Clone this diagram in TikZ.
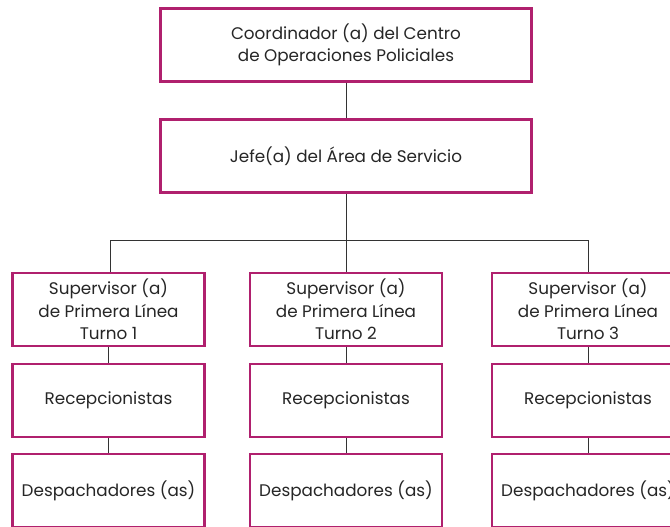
\documentclass[tikz,border=0pt]{standalone}
\usepackage{fontspec}
\setmainfont{Poppins}
\definecolor{boxc}{HTML}{B0206E}
\definecolor{linec}{HTML}{333333}
\begin{document}
\begin{tikzpicture}[x=1pt,y=-1pt,
  box/.style={draw=boxc,line width=2.2pt,fill=white,minimum height=73pt,align=center,inner sep=0pt,
    font=\fontsize{16.8}{22.5}\selectfont,text=black!85},
  conn/.style={draw=linec,line width=0.9pt}]
\useasboundingbox (0,0) rectangle (670,527);
\clip (0,0) rectangle (670,527);
\node[box,minimum width=371pt] (coord) at (346,45) {Coordinador (a) del Centro\\de Operaciones Policiales};
\node[box,minimum width=371pt] (jefe) at (346,156) {Jefe(a) del Área de Servicio};
\coordinate (hl) at (110,240);
\coordinate (hr) at (588,240);
\coordinate (hm) at (346,240);
\foreach \i/\x/\t in {1/108.5/1,2/346/2,3/588/3}{
  \node[box,minimum width=192pt] (sup\i) at (\x,309.5) {Supervisor (a)\\de Primera Línea\\Turno \t};
  \node[box,minimum width=192pt] (rec\i) at (\x,400.5) {Recepcionistas};
  \node[box,minimum width=192pt] (des\i) at (\x,490.5) {Despachadores (as)};
}
\draw[conn] (coord) -- (jefe);
\draw[conn] (jefe) -- (hm);
\draw[conn] (hl) -- (hr);
\draw[conn] (hl) -- (hl |- sup1.north);
\draw[conn] (hm) -- (sup2);
\draw[conn] (hr) -- (hr |- sup3.north);
\foreach \i in {1,2,3}{
  \draw[conn] (sup\i) -- (rec\i);
  \draw[conn] (rec\i) -- (des\i);
}
\end{tikzpicture}
\end{document}
